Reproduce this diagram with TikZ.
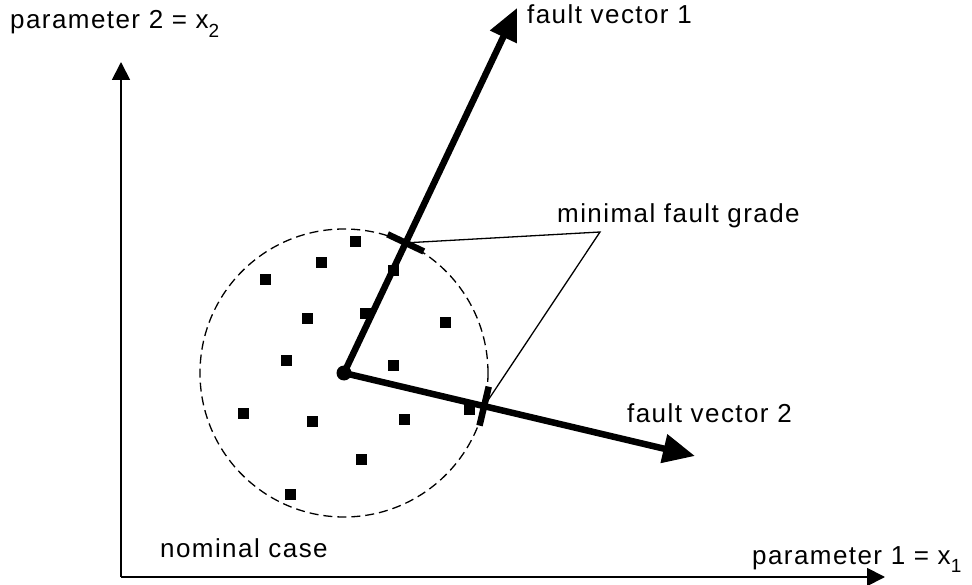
\documentclass[tikz,border=0pt]{standalone}
\usepackage{fontspec}
\setmainfont{Liberation Sans}[LetterSpace=5.5]
\usetikzlibrary{arrows.meta,calc}
\newcommand{\mysubidx}[1]{\raisebox{-0.34em}{\fontsize{19}{19}\selectfont #1}}
\tikzset{
  lbl/.style={font=\fontsize{26}{30}\selectfont, inner sep=0pt, anchor=base west},
  axis/.style={line width=1.8pt, -{Triangle[length=18pt,width=18pt]}},
  fvec/.style={line width=6.5pt, -{Triangle[length=32pt,width=28pt]}},
  sq/.style={rectangle, fill=black, minimum size=11pt, inner sep=0pt},
  tickmark/.style={line width=6.5pt},
  leader/.style={line width=1.3pt},
  region/.style={line width=1.3pt, dash pattern=on 9pt off 5pt},
}
\begin{document}
\begin{tikzpicture}[x=1pt,y=-1pt]
\useasboundingbox (0,0) rectangle (972,585);
% axes
\coordinate (o) at (121,577);
\coordinate (ytip) at (121,62);
\coordinate (xtip) at (885,577);
\draw[axis] (o) -- (ytip);
\draw[axis] (o) -- (xtip);
% nominal region
\coordinate (c) at (344,373);
\draw[region] (c) circle (144pt);
% sample points
\foreach \i/\x/\y in {1/355/242, 2/321/263, 3/265/280, 4/393/271, 5/307/319, 6/365/314,
  7/445/323, 8/286/360, 9/393/365, 10/243/413, 11/312/421, 12/404/419, 13/469/409,
  14/361/459, 15/290/494}
  \node[sq] (s\i) at (\x,\y) {};
% fault vectors
\coordinate (f1) at (517,8);
\coordinate (f2) at (695,456);
\draw[fvec] (c) -- (f1);
\draw[fvec] (c) -- (f2);
\node[circle, fill=black, minimum size=15pt, inner sep=0pt] (nom) at (c) {};
% minimal fault grade ticks
\coordinate (t1) at ($(c)!144pt!(f1)$);
\coordinate (t2) at ($(c)!144pt!(f2)$);
\draw[tickmark] ($(t1)!20pt!90:(f1)$) -- ($(t1)!20pt!-90:(f1)$);
\draw[tickmark] ($(t2)!20pt!90:(f2)$) -- ($(t2)!20pt!-90:(f2)$);
\coordinate (apex) at (600,232);
\draw[leader] (t1) -- (apex) -- (t2);
% labels
\node[lbl] (ly) at (10,29) {parameter 2 = x\mysubidx{2}};
\node[lbl] (lx) at (752,564) {parameter 1 = x\mysubidx{1}};
\node[lbl] (lf1) at (527,24) {fault vector 1};
\node[lbl] (lf2) at (627,422) {fault vector 2};
\node[lbl] (lmin) at (557,223) {minimal fault grade};
\node[lbl] (lnom) at (160,557) {nominal case};
\end{tikzpicture}
\end{document}
